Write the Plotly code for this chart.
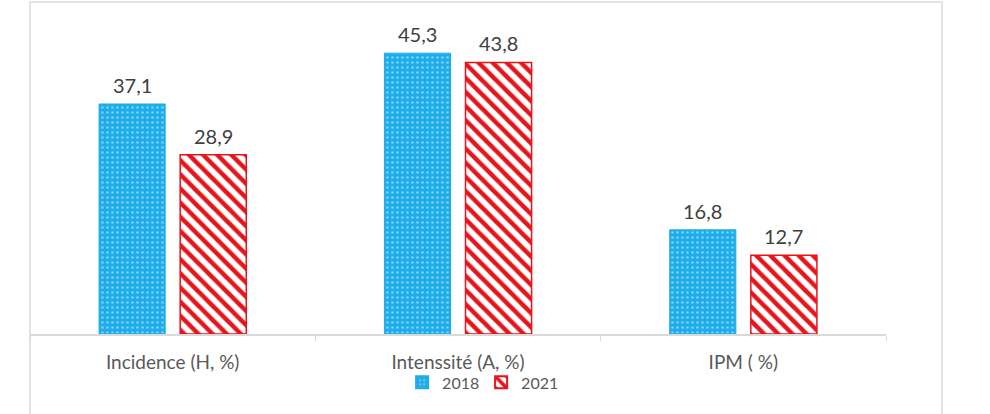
import plotly.graph_objects as go

categories = ["Incidence (H, %)", "Intenssité (A, %)", "IPM ( %)"]
series_names = ["2018", "2021"]
values_2018 = [37.1, 45.3, 16.8]
values_2021 = [28.9, 43.8, 12.7]

def fmt(v):
    return f"{v:.1f}".replace(".", ",")

FONT = "Lato, Open Sans, sans-serif"
BLUE = "#1CADEA"
RED = "#E8141C"

fig = go.Figure()
fig.add_trace(go.Bar(
    name=series_names[0], x=categories, y=values_2018,
    marker=dict(color=BLUE, line=dict(color=BLUE, width=1),
                pattern=dict(shape=".", fgcolor="rgba(255,255,255,0.85)", size=5, solidity=0.22, fillmode="overlay")),
))
fig.add_trace(go.Bar(
    name=series_names[1], x=categories, y=values_2021,
    marker=dict(color="white", line=dict(color=RED, width=1.5),
                pattern=dict(shape="\\", fgcolor=RED, bgcolor="white", size=10, solidity=0.45, fillmode="replace")),
))

annotations = []
for vals, dx in ((values_2018, -40.5), (values_2021, 40.5)):
    for c, v in zip(categories, vals):
        annotations.append(dict(x=c, y=v, text=fmt(v), showarrow=False, xshift=dx, yshift=5,
                                yanchor="bottom", font=dict(family=FONT, size=20, color="#404040")))

fig.update_layout(
    width=990, height=414,
    margin=dict(l=30, r=104, t=10, b=80, autoexpand=False),
    paper_bgcolor="white", plot_bgcolor="white",
    barmode="group", bargap=0.4316, bargroupgap=0.185,
    showlegend=True,
    legend=dict(orientation="h", x=0.527, xanchor="center", y=-0.097, yanchor="top",
                bgcolor="rgba(0,0,0,0)",
                font=dict(family=FONT, size=16, color="#595959"), itemwidth=30,
                entrywidth=34, entrywidthmode="pixels",
                itemsizing="constant", tracegroupgap=0),
    xaxis=dict(showline=True, linecolor="#D9D9D9", linewidth=1.5, ticks="outside", tickson="boundaries",
               ticklen=5, tickcolor="#D9D9D9", showgrid=False,
               tickfont=dict(family=FONT, size=19, color="#595959"), ticklabelstandoff=10),
    yaxis=dict(visible=False, range=[0, 52.26]),
    annotations=annotations,
    shapes=[dict(type="rect", xref="paper", yref="paper", x0=0, x1=1.0654, y0=-0.4, y1=1.0247,
                 line=dict(color="#E3E3E3", width=2), fillcolor="rgba(0,0,0,0)", layer="below")],
)

fig.write_html("out.html", config={"displayModeBar": False},
               post_script="document.body.style.margin='0';document.body.style.overflow='hidden';")
